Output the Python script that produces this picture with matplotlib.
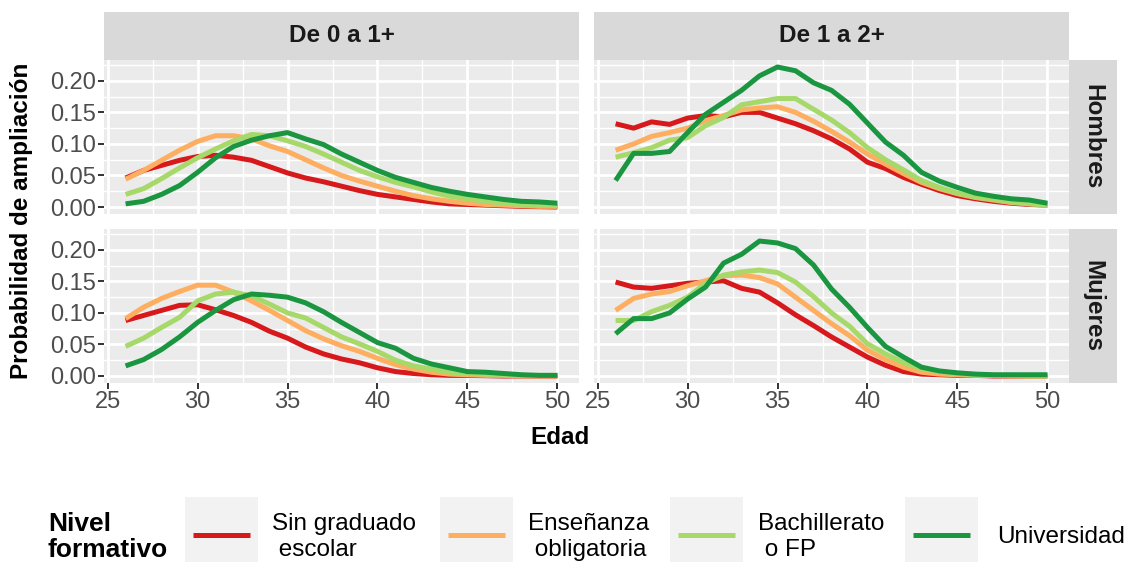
import matplotlib
matplotlib.use("Agg")
import matplotlib.pyplot as plt
from matplotlib.patches import Rectangle
from matplotlib.lines import Line2D
import numpy as np

plt.rcParams['font.family'] = ['Liberation Sans', 'DejaVu Sans']

ages = list(range(26, 51))

levels = ["Sin graduado\n escolar", "Enseñanza\n obligatoria", "Bachillerato\n o FP", "Universidad"]
colors = ["#D7191C", "#FDAE61", "#A6D96A", "#1A9641"]
transitions = ["De 0 a 1+", "De 1 a 2+"]
sexes = ["Hombres", "Mujeres"]

# Hombres, De 0 a 1+
h01_sin = [0.046, 0.058, 0.066, 0.074, 0.080, 0.082, 0.079, 0.074, 0.064, 0.054, 0.046, 0.040, 0.033,
           0.026, 0.020, 0.016, 0.012, 0.008, 0.005, 0.004, 0.003, 0.002, 0.001, 0.0005, 0.0]
h01_ens = [0.044, 0.058, 0.074, 0.090, 0.104, 0.113, 0.113, 0.108, 0.097, 0.088, 0.075, 0.062, 0.050,
           0.041, 0.033, 0.025, 0.018, 0.013, 0.009, 0.006, 0.004, 0.003, 0.002, 0.001, 0.001]
h01_bac = [0.020, 0.029, 0.045, 0.062, 0.078, 0.092, 0.105, 0.115, 0.113, 0.105, 0.096, 0.084, 0.071,
           0.058, 0.048, 0.039, 0.032, 0.024, 0.017, 0.013, 0.009, 0.006, 0.004, 0.003, 0.002]
h01_uni = [0.005, 0.009, 0.020, 0.034, 0.055, 0.078, 0.096, 0.106, 0.113, 0.118, 0.108, 0.099, 0.084,
           0.071, 0.058, 0.047, 0.039, 0.031, 0.025, 0.020, 0.016, 0.012, 0.009, 0.008, 0.006]

# Hombres, De 1 a 2+
h12_sin = [0.132, 0.125, 0.135, 0.131, 0.141, 0.145, 0.143, 0.150, 0.150, 0.141, 0.132, 0.121, 0.108,
           0.092, 0.071, 0.061, 0.047, 0.036, 0.026, 0.018, 0.013, 0.009, 0.006, 0.004, 0.003]
h12_ens = [0.090, 0.100, 0.112, 0.118, 0.125, 0.137, 0.145, 0.154, 0.157, 0.159, 0.150, 0.136, 0.120,
           0.103, 0.084, 0.068, 0.053, 0.039, 0.029, 0.021, 0.015, 0.011, 0.007, 0.005, 0.003]
h12_bac = [0.079, 0.086, 0.094, 0.106, 0.110, 0.129, 0.142, 0.162, 0.167, 0.172, 0.172, 0.155, 0.138,
           0.118, 0.094, 0.075, 0.059, 0.042, 0.031, 0.022, 0.016, 0.012, 0.008, 0.005, 0.003]
h12_uni = [0.042, 0.085, 0.085, 0.088, 0.118, 0.147, 0.166, 0.185, 0.208, 0.222, 0.216, 0.197, 0.185,
           0.163, 0.133, 0.103, 0.082, 0.055, 0.041, 0.031, 0.022, 0.017, 0.013, 0.011, 0.006]

# Mujeres, De 0 a 1+
m01_sin = [0.088, 0.096, 0.104, 0.112, 0.113, 0.105, 0.096, 0.085, 0.071, 0.060, 0.046, 0.035, 0.027,
           0.021, 0.013, 0.007, 0.004, 0.002, 0.001, 0.001, 0.0005, 0.0, 0.0, 0.0, 0.0]
m01_ens = [0.091, 0.109, 0.123, 0.134, 0.144, 0.144, 0.133, 0.119, 0.104, 0.088, 0.072, 0.059, 0.048,
           0.039, 0.028, 0.018, 0.011, 0.006, 0.003, 0.002, 0.001, 0.001, 0.0, 0.0, 0.0]
m01_bac = [0.047, 0.060, 0.077, 0.093, 0.119, 0.130, 0.133, 0.127, 0.114, 0.100, 0.092, 0.077, 0.062,
           0.051, 0.039, 0.025, 0.016, 0.011, 0.006, 0.004, 0.003, 0.002, 0.001, 0.001, 0.001]
m01_uni = [0.016, 0.026, 0.042, 0.062, 0.085, 0.104, 0.121, 0.130, 0.128, 0.125, 0.116, 0.102, 0.085,
           0.069, 0.053, 0.044, 0.028, 0.019, 0.013, 0.007, 0.006, 0.004, 0.002, 0.001, 0.001]

# Mujeres, De 1 a 2+
m12_sin = [0.149, 0.141, 0.139, 0.143, 0.147, 0.149, 0.151, 0.139, 0.133, 0.116, 0.097, 0.080, 0.062,
           0.046, 0.030, 0.017, 0.007, 0.003, 0.002, 0.001, 0.001, 0.0, 0.0, 0.0, 0.0]
m12_ens = [0.104, 0.123, 0.130, 0.134, 0.143, 0.151, 0.159, 0.160, 0.156, 0.146, 0.125, 0.104, 0.083,
           0.064, 0.041, 0.026, 0.014, 0.006, 0.003, 0.002, 0.001, 0.001, 0.0, 0.0, 0.0]
m12_bac = [0.088, 0.088, 0.102, 0.112, 0.125, 0.147, 0.160, 0.165, 0.168, 0.164, 0.149, 0.126, 0.100,
           0.079, 0.051, 0.035, 0.021, 0.012, 0.007, 0.004, 0.002, 0.001, 0.001, 0.0, 0.0]
m12_uni = [0.067, 0.091, 0.091, 0.100, 0.122, 0.141, 0.179, 0.193, 0.214, 0.211, 0.202, 0.176, 0.138,
           0.109, 0.077, 0.047, 0.030, 0.014, 0.008, 0.005, 0.003, 0.002, 0.002, 0.002, 0.002]

panels = {
    ("Hombres", "De 0 a 1+"): [h01_sin, h01_ens, h01_bac, h01_uni],
    ("Hombres", "De 1 a 2+"): [h12_sin, h12_ens, h12_bac, h12_uni],
    ("Mujeres", "De 0 a 1+"): [m01_sin, m01_ens, m01_bac, m01_uni],
    ("Mujeres", "De 1 a 2+"): [m12_sin, m12_ens, m12_bac, m12_uni],
}

W, H = 1131, 565
fig = plt.figure(figsize=(W / 100, H / 100), dpi=100)

def fx(px):
    return px / W

def fy(py):
    return 1 - py / H

col_x = [(104, 579), (594, 1069)]
row_y = [(60, 214), (229, 383)]

allv = np.concatenate([np.array(v) for vs in panels.values() for v in vs])
ymin, ymax = allv.min(), allv.max()
yr = ymax - ymin
ylim = (ymin - 0.05 * yr, ymax + 0.05 * yr)
xr = max(ages) - min(ages)
xlim = (min(ages) - 0.05 * xr, max(ages) + 0.05 * xr)

TICK_FS = 17
grey_txt = "#4D4D4D"

for r, sex in enumerate(sexes):
    for c, tr in enumerate(transitions):
        x0, x1 = col_x[c]
        y0, y1 = row_y[r]
        ax = fig.add_axes([fx(x0), fy(y1), fx(x1) - fx(x0), (y1 - y0) / H])
        ax.set_facecolor("#EBEBEB")
        for s in ax.spines.values():
            s.set_visible(False)
        ax.set_xlim(*xlim)
        ax.set_ylim(*ylim)
        ax.set_xticks([25, 30, 35, 40, 45, 50])
        ax.set_xticks([27.5, 32.5, 37.5, 42.5, 47.5], minor=True)
        ax.set_yticks([0.0, 0.05, 0.10, 0.15, 0.20])
        ax.set_yticks([0.025, 0.075, 0.125, 0.175, 0.225], minor=True)
        ax.grid(which="major", color="white", linewidth=2.0)
        ax.grid(which="minor", color="white", linewidth=1.0)
        ax.set_axisbelow(True)
        ax.tick_params(which="minor", length=0)
        ax.tick_params(which="major", length=4, width=1.4, color="#333333",
                       labelsize=TICK_FS, labelcolor=grey_txt, pad=2)
        if c == 0:
            ax.set_yticklabels([f"{v:.2f}" for v in [0.0, 0.05, 0.10, 0.15, 0.20]])
        else:
            ax.tick_params(axis="y", length=0, labelleft=False)
        if r == 1:
            ax.set_xticklabels(["25", "30", "35", "40", "45", "50"])
        else:
            ax.tick_params(axis="x", length=0, labelbottom=False)
        for vals, col in zip(panels[(sex, tr)], colors):
            ax.plot(ages, vals, color=col, linewidth=3.6, solid_capstyle="butt")

# top strips
for c, tr in enumerate(transitions):
    x0, x1 = col_x[c]
    fig.patches.append(Rectangle((fx(x0), fy(60)), fx(x1) - fx(x0), 48 / H,
                                 transform=fig.transFigure, facecolor="#D9D9D9",
                                 edgecolor="none", zorder=0))
    fig.text(fx((x0 + x1) / 2), fy(36), tr, ha="center", va="center",
             fontsize=17.5, fontweight="bold", color="#1A1A1A")

# right strips
for r, sex in enumerate(sexes):
    y0, y1 = row_y[r]
    fig.patches.append(Rectangle((fx(1069), fy(y1)), 48 / W, (y1 - y0) / H,
                                 transform=fig.transFigure, facecolor="#D9D9D9",
                                 edgecolor="none", zorder=0))
    fig.text(fx(1093), fy((y0 + y1) / 2), sex, ha="center", va="center",
             rotation=-90, fontsize=17.5, fontweight="bold", color="#1A1A1A")

# axis titles
fig.text(fx(560), fy(438), "Edad", ha="center", va="center",
         fontsize=17.5, fontweight="bold", color="black")
fig.text(fx(22), fy(221), "Probabilidad de ampliación", ha="center", va="center",
         rotation=90, fontsize=17.5, fontweight="bold", color="black")

# legend
fig.text(fx(48), fy(537), "Nivel\nformativo", ha="left", va="center",
         fontsize=19, fontweight="bold", color="black", linespacing=1.15)
key_x = [185, 440, 670, 905]
lab_x = [272, 528, 758, 997]
for kx, lx, lab, col in zip(key_x, lab_x, levels, colors):
    fig.patches.append(Rectangle((fx(kx), fy(562)), 73 / W, 65 / H,
                                 transform=fig.transFigure, facecolor="#F2F2F2",
                                 edgecolor="none", zorder=0))
    fig.lines.append(Line2D([fx(kx + 8), fx(kx + 65)], [fy(535), fy(535)],
                            transform=fig.transFigure, color=col, linewidth=3.6,
                            solid_capstyle="butt"))
    fig.text(fx(lx), fy(537), lab, ha="left", va="center", fontsize=17.5,
             color="black", linespacing=1.25)

fig.savefig("out.png", dpi=100, facecolor="white")
